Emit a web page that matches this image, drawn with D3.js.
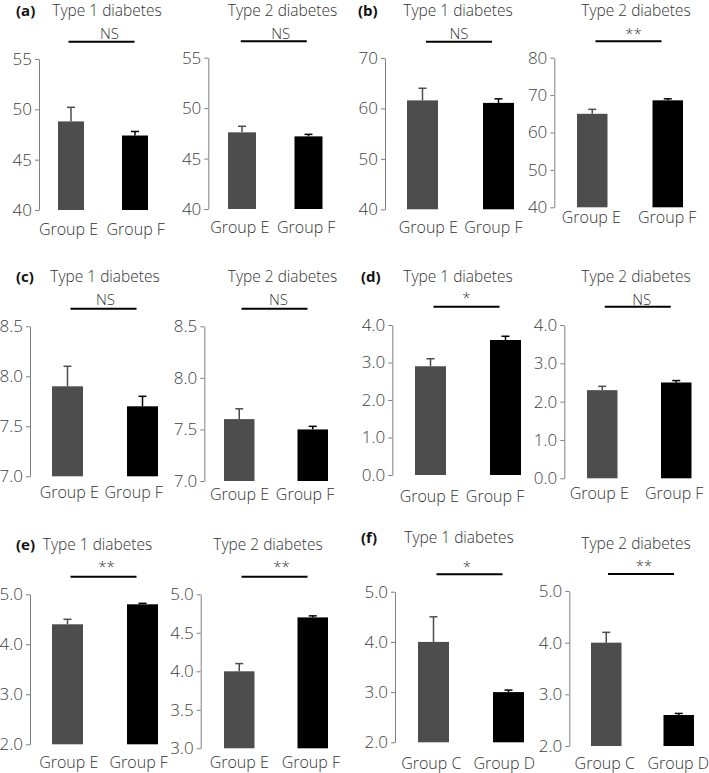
<!DOCTYPE html>
<html><head><meta charset="utf-8">
<script src="https://cdn.jsdelivr.net/npm/d3@7"></script>
<style>
body{margin:0;background:#fff;}
text{font-family:"Open Sans",sans-serif;font-weight:300;}
</style></head><body>
<svg id="chart" width="709" height="773"></svg>
<script>
// ---- data ----
const panelTags = ["(a)","(b)","(c)","(d)","(e)","(f)"];
const diabetesTypes = ["Type 1 diabetes","Type 2 diabetes"];
const groupsEF = ["Group E","Group F"];
const groupsCD = ["Group C","Group D"];
// order: a-T1, a-T2, b-T1, b-T2, c-T1, c-T2, d-T1, d-T2, e-T1, e-T2, f-T1, f-T2
const means = [[48.8,47.4],[47.6,47.2],[61.6,61.1],[65.0,68.6],[7.9,7.7],[7.6,7.5],[2.9,3.6],[2.3,2.5],[4.4,4.8],[4.0,4.7],[4.0,3.0],[4.0,2.6]];
const errorTops = [[50.2,47.8],[48.2,47.4],[64.0,61.9],[66.2,69.0],[8.1,7.8],[7.7,7.53],[3.1,3.7],[2.4,2.55],[4.5,4.82],[4.1,4.72],[4.5,3.04],[4.2,2.63]];
const significance = ["NS","NS","NS","**","NS","NS","*","NS","**","**","*","**"];
const yDomains = [[40,55],[40,55],[40,70],[40,80],[7,8.5],[7,8.5],[0,4],[0,4],[2,5],[3,5],[2,5],[2,5]];
const yTicks = [[40,45,50,55],[40,45,50,55],[40,50,60,70],[40,50,60,70,80],[7,7.5,8,8.5],[7,7.5,8,8.5],[0,1,2,3,4],[0,1,2,3,4],[2,3,4,5],[3,3.5,4,4.5,5],[2,3,4,5],[2,3,4,5]];
const tickDecimals = [0,0,0,0,1,1,1,1,1,1,1,1];

// ---- layout (positions only) ----
const layout = [
 {ax:39,yTop:59,yBot:210,eL:58,fL:122,bw:26,tx:107,ty:16,sy:41.7,sdx:8,sty:39,lx:[68.5,135.7],ly:235},
 {ax:208.3,yTop:57.7,yBot:209,eL:228,fL:294.5,bw:28,tx:282.5,ty:16,sy:41.3,sdx:7,sty:39,lx:[239.7,306.2],ly:233},
 {ax:385,yTop:58,yBot:209.3,eL:407,fL:483,bw:31,tx:458,ty:16,sy:41.7,sdx:0,sty:39,lx:[428.3,493.3],ly:233},
 {ax:554.3,yTop:57.7,yBot:207.3,eL:577,fL:652.5,bw:30.5,tx:636,ty:16,sy:41.3,sdx:5,sty:39,lx:[591.3,667.2],ly:223},
 {ax:30,yTop:326.3,yBot:476.3,eL:52,fL:127,bw:31,tx:105,ty:281.5,sy:308.7,sdx:2,sty:305,lx:[69.2,133.7],ly:498},
 {ax:204.3,yTop:326.3,yBot:481,eL:224,fL:297.5,bw:30.5,tx:282.5,ty:281.5,sy:308.7,sdx:4,sty:304.5,lx:[239.5,305],ly:500},
 {ax:392.3,yTop:325,yBot:475,eL:415,fL:490,bw:31,tx:458,ty:281.5,sy:306.7,sdx:0,sty:303,lx:[429.2,495],ly:501.5},
 {ax:564.3,yTop:325,yBot:478.3,eL:587,fL:661,bw:30.5,tx:636,ty:281.5,sy:306.7,sdx:4,sty:305,lx:[599.2,674.2],ly:499},
 {ax:30,yTop:594.3,yBot:744.3,eL:52,fL:127,bw:31,tx:97.5,ty:550,sy:576.7,sdx:3,sty:572,lx:[68.7,138.7],ly:768},
 {ax:200.7,yTop:594.3,yBot:748.3,eL:224,fL:297.5,bw:30.5,tx:268,ty:550,sy:576.7,sdx:7,sty:572,lx:[239.2,310.8],ly:768},
 {ax:395,yTop:591.7,yBot:742.3,eL:418,fL:493,bw:31,tx:459,ty:543,sy:574.3,sdx:-2.5,sty:572,lx:[431.3,504.2],ly:769},
 {ax:569.3,yTop:591,yBot:746,eL:591,fL:663.5,bw:30.5,tx:636,ty:549,sy:574,sdx:3,sty:571,lx:[604.7,678.3],ly:769}
];
const tagX = [16,358,16,361,16,361];
const barColors = ["#4d4d4d","#000000"];

const svg = d3.select("#chart");

layout.forEach((L, i) => {
  const panel = Math.floor(i/2), type = i % 2;
  const groups = panel === 5 ? groupsCD : groupsEF;
  const step = L.fL - L.eL;
  const pad = (step - L.bw) / step;
  const x = d3.scaleBand().domain(groups)
    .range([L.eL - (step - L.bw)/2, L.fL + L.bw + (step - L.bw)/2])
    .paddingInner(pad).paddingOuter(pad/2);
  const y = d3.scaleLinear().domain(yDomains[i]).range([L.yBot, L.yTop]);
  const g = svg.append("g");

  // axis
  const axis = g.append("g").attr("transform", `translate(${L.ax},0)`)
    .call(d3.axisLeft(y).tickValues(yTicks[i])
      .tickFormat(d3.format(`.${tickDecimals[i]}f`))
      .tickSizeOuter(0).tickSizeInner(4).tickPadding(3));
  axis.select(".domain").attr("stroke", "#808080");
  axis.selectAll(".tick line").attr("stroke", "#808080");
  axis.selectAll(".tick text").attr("fill", "#404040")
    .style("font-size", "17px").style("font-family", "'Open Sans',sans-serif").style("font-weight", "300");

  const rows = groups.map((name, j) => ({name, mean: means[i][j], top: errorTops[i][j], color: barColors[j]}));

  // bars
  g.selectAll("rect.bar").data(rows).join("rect").attr("class","bar")
    .attr("x", d => x(d.name)).attr("width", x.bandwidth())
    .attr("y", d => y(d.mean)).attr("height", d => y(yDomains[i][0]) - y(d.mean))
    .attr("fill", d => d.color);

  // error bars (upper only)
  g.selectAll("line.err").data(rows).join("line").attr("class","err")
    .attr("x1", d => x(d.name) + x.bandwidth()/2).attr("x2", d => x(d.name) + x.bandwidth()/2)
    .attr("y1", d => y(d.mean)).attr("y2", d => y(d.top))
    .attr("stroke", d => d.color).attr("stroke-width", 1.5);
  g.selectAll("line.cap").data(rows).join("line").attr("class","cap")
    .attr("x1", d => x(d.name) + x.bandwidth()/2 - 4).attr("x2", d => x(d.name) + x.bandwidth()/2 + 4)
    .attr("y1", d => y(d.top)).attr("y2", d => y(d.top))
    .attr("stroke", d => d.color).attr("stroke-width", 1.5);

  // group labels
  g.selectAll("text.grp").data(rows).join("text").attr("class","grp")
    .attr("x", (d, j) => L.lx[j]).attr("y", L.ly)
    .attr("text-anchor", "middle").attr("fill", "#333")
    .style("font-size", "16px").text(d => d.name);

  // significance bracket
  const mid = (x(groups[0]) + x(groups[1]) + x.bandwidth())/2 - 1.5;
  g.append("line").attr("x1", mid - 33).attr("x2", mid + 33)
    .attr("y1", L.sy).attr("y2", L.sy).attr("stroke", "#000").attr("stroke-width", 2);
  g.append("text").attr("x", mid + L.sdx).attr("y", L.sty)
    .attr("text-anchor", "middle").attr("fill", "#333")
    .style("font-size", "15px").text(significance[i]);

  // title
  g.append("text").attr("x", L.tx).attr("y", L.ty)
    .attr("text-anchor", "middle").attr("fill", "#333")
    .style("font-size", "15.5px").text(diabetesTypes[type]);
  if (type === 0) {
    g.append("text").attr("x", tagX[panel]).attr("y", L.ty)
      .attr("fill", "#111").style("font-size", "15px").style("font-weight", "bold")
      .text(panelTags[panel]);
  }
});
</script>
</body></html>
